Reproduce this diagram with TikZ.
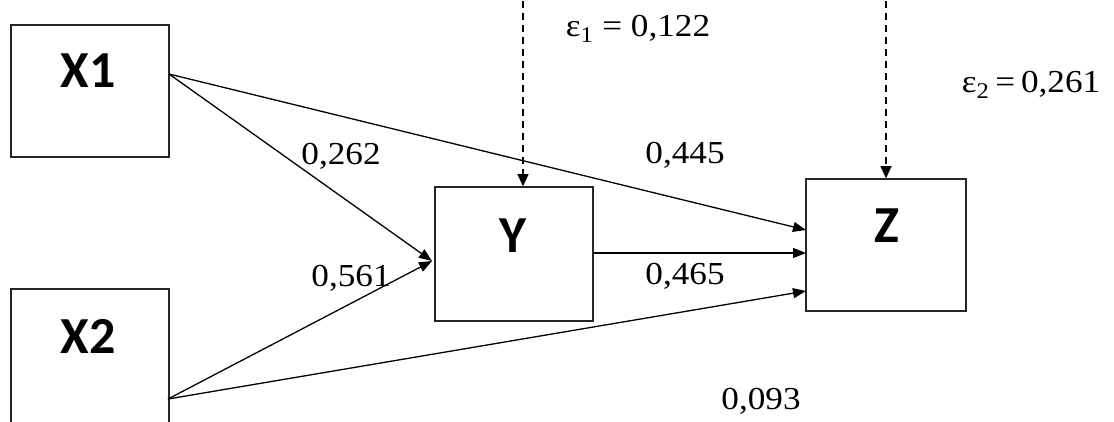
\documentclass[tikz,border=0pt]{standalone}
\usepackage{fontspec}
\usepackage{graphicx}
\setmainfont{Liberation Serif}
\newfontfamily\boxfont{Carlito}
\usetikzlibrary{arrows.meta}
\tikzset{
  box/.style={draw=black!85, line width=1.6pt, fill=white, inner sep=0pt},
  boxtext/.style={font=\boxfont\bfseries\fontsize{52}{52}\selectfont, inner sep=0pt},
  coef/.style={font=\fontsize{32}{32}\selectfont, inner sep=0pt},
  link/.style={line width=1.3pt, -{Triangle[length=13pt,width=10pt]}},
  err/.style={line width=1.1pt, dash pattern=on 7pt off 5pt, -{Triangle[length=12pt,width=11pt]}}
}
\newcommand{\wide}[1]{\scalebox{1.1}[1]{#1}}
\begin{document}
\begin{tikzpicture}[x=1pt,y=-1pt]
\useasboundingbox (0,0) rectangle (1114,421);
\clip (0,0) rectangle (1114,421);
\node[box, minimum width=158pt, minimum height=132pt] (X1) at (90,91) {};
\node[box, minimum width=158pt, minimum height=150pt] (X2) at (90,364) {};
\node[box, minimum width=158pt, minimum height=134pt] (Y) at (514,254) {};
\node[box, minimum width=160pt, minimum height=132pt] (Z) at (886,245) {};
\node[boxtext] (tX1) at (88,71) {X1};
\node[boxtext] (tX2) at (88,336) {X2};
\node[boxtext] (tY) at (513,236) {Y};
\node[boxtext] (tZ) at (887,226) {Z};
\coordinate (x1o) at (169,74);
\coordinate (x2o) at (168,399);
\coordinate (yin) at (432,261);
\coordinate (yout) at (593,253);
\coordinate (za) at (806,230);
\coordinate (zb) at (806,253);
\coordinate (zc) at (806,291);
\coordinate (e1) at (523,1);
\coordinate (e2) at (886,1);
\draw[link] (x1o) -- (yin);
\draw[link] (x2o) -- (yin);
\draw[link] (x1o) -- (za);
\draw[link] (yout) -- (zb);
\draw[link] (x2o) -- (zc);
\draw[err] (e1) -- (Y.north -| e1);
\draw[err] (e2) -- (Z.north -| e2);
\node[coef] (l1) at (638,29) {\wide{ε\textsubscript{1} = 0,122}};
\node[coef] (l2) at (1031,85) {\wide{ε\textsubscript{2}\,=\,0,261}};
\node[coef] (l262) at (341,156) {\wide{0,262}};
\node[coef] (l561) at (351,278) {\wide{0,561}};
\node[coef] (l445) at (685,155) {\wide{0,445}};
\node[coef] (l465) at (685,276) {\wide{0,465}};
\node[coef] (l093) at (761,401) {\wide{0,093}};
\end{tikzpicture}
\end{document}
